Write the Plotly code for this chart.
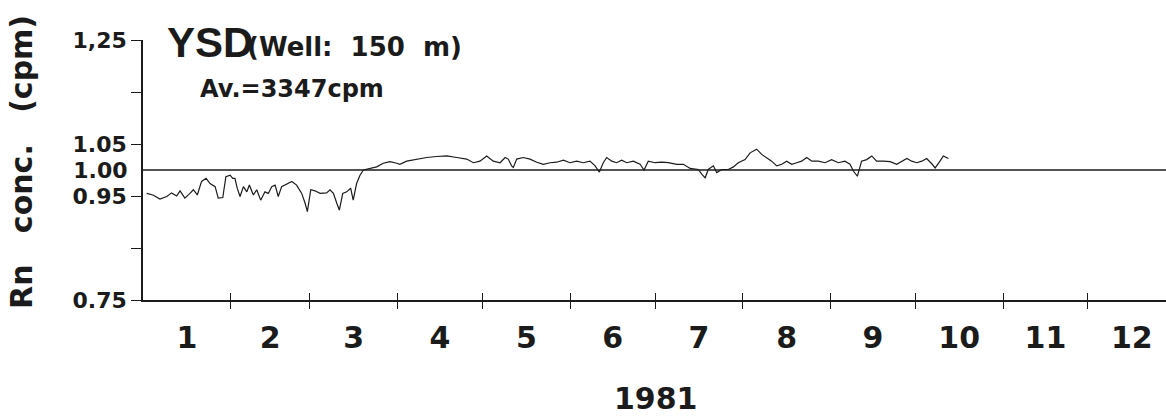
import plotly.graph_objects as go

# Day of year 1981 and radon concentration normalised to the yearly average
DAY = [1.3, 3.5, 6.0, 8.4, 10.1, 11.9, 13.1, 14.8, 16.6, 17.8, 19.2, 20.7, 22.3, 23.7, 25.5,
       26.6, 28.2, 29.3, 30.8, 31.7, 32.5, 33.3, 34.3, 35.5, 36.7, 37.6, 39.0, 40.2, 41.6,
       43.1, 44.3, 45.5, 46.7, 47.8, 49.0, 50.8, 52.6, 54.3, 56.1, 57.3, 58.1, 59.3, 60.8,
       62.6, 64.9, 66.1, 67.3, 68.5, 69.4, 70.6, 72.0, 73.4, 74.3, 75.5, 76.7, 77.9, 80.2,
       82.6, 84.9, 87.3, 89.7, 90.8, 93.2, 96.7, 100.3, 103.8, 107.4, 110.9, 114.4, 116.8,
       119.1, 121.5, 123.8, 126.2, 128.0, 129.1, 130.3, 130.9, 132.1, 134.4, 136.8, 139.2,
       141.5, 143.9, 146.2, 148.6, 150.9, 153.3, 155.6, 158.0, 159.8, 161.3, 162.7, 163.9,
       165.7, 167.4, 169.2, 171.0, 173.3, 175.7, 177.1, 178.6, 181.0, 183.4, 185.7, 188.7,
       191.0, 193.4, 196.3, 197.5, 198.7, 199.8, 201.6, 202.8, 204.6, 206.9, 208.7, 210.4,
       212.8, 214.6, 216.9, 218.7, 220.5, 222.2, 224.0, 225.8, 227.5, 229.3, 231.1, 232.8,
       234.6, 236.4, 238.7, 241.1, 243.4, 245.8, 248.1, 249.9, 251.1, 252.5, 254.0, 255.8,
       257.6, 259.3, 261.7, 264.1, 266.4, 268.2, 270.0, 271.7, 273.5, 275.3, 277.0, 278.8,
       280.0, 281.7, 282.9, 284.7]
RN_RATIO = [0.955, 0.952, 0.944, 0.949, 0.956, 0.950, 0.960, 0.946, 0.955, 0.962, 0.952, 0.978,
            0.984, 0.974, 0.968, 0.946, 0.947, 0.987, 0.990, 0.984, 0.984, 0.965, 0.949, 0.968,
            0.958, 0.971, 0.952, 0.962, 0.942, 0.958, 0.955, 0.968, 0.971, 0.949, 0.968, 0.973,
            0.978, 0.971, 0.955, 0.936, 0.920, 0.962, 0.960, 0.955, 0.956, 0.962, 0.955, 0.936,
            0.923, 0.955, 0.958, 0.965, 0.942, 0.974, 0.990, 1.000, 1.003, 1.006, 1.013, 1.016,
            1.013, 1.011, 1.017, 1.021, 1.024, 1.026, 1.027, 1.024, 1.021, 1.014, 1.017, 1.027,
            1.017, 1.014, 1.024, 1.021, 1.008, 1.005, 1.021, 1.024, 1.021, 1.015, 1.011, 1.014,
            1.015, 1.019, 1.014, 1.017, 1.014, 1.017, 1.008, 0.996, 1.014, 1.024, 1.017, 1.014,
            1.019, 1.014, 1.017, 1.011, 1.000, 1.017, 1.014, 1.015, 1.014, 1.011,
            1.011, 1.003, 1.001, 0.992, 0.985, 1.001, 1.008, 0.995, 1.001, 1.001, 1.006, 1.014,
            1.020, 1.033, 1.040, 1.030, 1.024, 1.017, 1.008, 1.011, 1.017, 1.011, 1.014, 1.017,
            1.024, 1.017, 1.017, 1.014, 1.020, 1.014, 1.017, 1.011, 0.998, 0.988, 1.017, 1.020,
            1.027, 1.017, 1.017, 1.016, 1.011, 1.017, 1.022, 1.017, 1.014, 1.017, 1.022, 1.012,
            1.004, 1.017, 1.027, 1.022]

AVERAGE_LEVEL = 1.0

MONTH_LABELS = ["1", "2", "3", "4", "5", "6", "7", "8", "9", "10", "11", "12"]
MONTH_DAYS = [31, 28, 31, 30, 31, 30, 31, 31, 30, 31, 30, 31]

Y_TICKS = [0.75, 0.85, 0.95, 1.05, 1.15, 1.25]
Y_TICK_TEXT = ["0.75", "", "0.95", "1.05", "", "1,25"]

# month boundaries and mid-month label positions (day of year)
bounds = [0]
for n in MONTH_DAYS:
    bounds.append(bounds[-1] + n)
month_edges = bounds[1:-1]
month_mids = [(bounds[i] + bounds[i + 1]) / 2 for i in range(12)]

X_RANGE = [0, 361.6]
Y_RANGE = [0.75, 1.25]
INK = "#1b1b1b"
BOLD = "DejaVu Sans"
NB = "\u00a0"

fig = go.Figure()
fig.add_trace(go.Scatter(x=DAY, y=RN_RATIO, mode="lines",
                         line=dict(color=INK, width=1.2), xaxis="x", yaxis="y"))
fig.add_trace(go.Scatter(x=[0, 365], y=[AVERAGE_LEVEL, AVERAGE_LEVEL], mode="lines",
                         line=dict(color=INK, width=1.5), xaxis="x", yaxis="y2"))
fig.add_trace(go.Scatter(x=[], y=[], xaxis="x2", yaxis="y"))
fig.add_trace(go.Scatter(x=[], y=[], xaxis="x3", yaxis="y"))

fig.update_layout(
    width=1166, height=418,
    margin=dict(l=143, r=0, t=40, b=118),
    paper_bgcolor="white", plot_bgcolor="white",
    showlegend=False,
    xaxis=dict(range=X_RANGE, showgrid=False, zeroline=False,
               showline=True, linecolor=INK, linewidth=1.5,
               tickmode="array", tickvals=month_mids, ticktext=MONTH_LABELS,
               ticks="outside", ticklen=10, tickcolor="rgba(0,0,0,0)",
               tickfont=dict(family=BOLD, size=30, color=INK, weight="bold")),
    xaxis2=dict(range=X_RANGE, overlaying="x", anchor="y", showgrid=False, zeroline=False,
                showline=False, tickmode="array", tickvals=month_edges,
                ticks="outside", ticklen=8, tickwidth=1.2, tickcolor=INK,
                showticklabels=False),
    xaxis3=dict(range=X_RANGE, overlaying="x", anchor="y", showgrid=False, zeroline=False,
                showline=False, tickmode="array", tickvals=month_edges,
                ticks="inside", ticklen=7, tickwidth=1.2, tickcolor=INK,
                showticklabels=False),
    yaxis=dict(range=Y_RANGE, showgrid=False, zeroline=False,
               showline=True, linecolor=INK, linewidth=1.5,
               tickmode="array", tickvals=Y_TICKS, ticktext=Y_TICK_TEXT,
               ticks="outside", ticklen=10, tickwidth=1.2, tickcolor=INK,
               tickfont=dict(family=BOLD, size=22, color=INK, weight="bold")),
    yaxis2=dict(range=Y_RANGE, overlaying="y", anchor="x", side="left",
                showgrid=False, zeroline=False, showline=False,
                tickmode="array", tickvals=[AVERAGE_LEVEL], ticktext=["1.00"],
                ticks="outside", ticklen=10, tickcolor="rgba(0,0,0,0)",
                tickfont=dict(family=BOLD, size=22, color=INK, weight="bold")),
)

fig.add_annotation(text="YSD", xref="paper", yref="paper", x=0.0215, y=0.992,
                   xanchor="left", yanchor="middle", showarrow=False,
                   font=dict(family="Liberation Sans", size=42, color=INK, weight="bold"))
fig.add_annotation(text=f"(Well:{NB}{NB}150{NB}{NB}m)", xref="paper", yref="paper",
                   x=0.0997, y=0.975, xanchor="left", yanchor="middle", showarrow=False,
                   font=dict(family=BOLD, size=26, color=INK, weight="bold"))
fig.add_annotation(text="Av.=3347cpm", xref="paper", yref="paper", x=0.0538, y=0.813,
                   xanchor="left", yanchor="middle", showarrow=False,
                   font=dict(family=BOLD, size=24, color=INK, weight="bold"))
fig.add_annotation(text=f"Rn{NB}{NB}{NB}conc.{NB}{NB}{NB}(cpm)", textangle=-90,
                   xref="paper", yref="paper", x=-0.1183, y=0.531,
                   xanchor="center", yanchor="middle", showarrow=False,
                   font=dict(family=BOLD, size=30, color=INK, weight="bold"))
fig.add_annotation(text="1981", xref="paper", yref="paper", x=(656 - 143) / 1023, y=-0.380,
                   xanchor="center", yanchor="middle", showarrow=False, borderpad=0,
                   font=dict(family=BOLD, size=30, color=INK, weight="bold"))

fig.write_html("out.html")
